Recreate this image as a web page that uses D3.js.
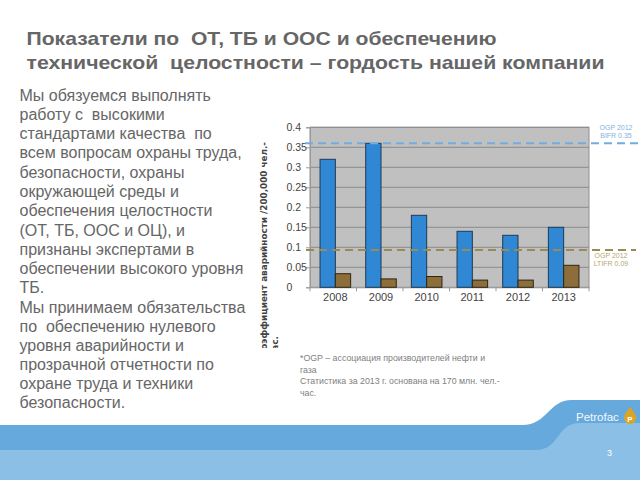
<!DOCTYPE html>
<html><head><meta charset="utf-8">
<script src="https://cdn.jsdelivr.net/npm/d3@7"></script>
<style>html,body{margin:0;padding:0;background:#fff;}svg{display:block;}svg text{white-space:pre;}</style>
</head><body>
<svg id="c" width="640" height="480" xml:space="preserve"></svg>
<script>
// ---- data ----
const years = ["2008", "2009", "2010", "2011", "2012", "2013"];
const bifr  = [0.32, 0.36, 0.18, 0.14, 0.13, 0.15];
const ltifr = [0.034, 0.021, 0.027, 0.018, 0.018, 0.055];
const yTicks = [0, 0.05, 0.1, 0.15, 0.2, 0.25, 0.3, 0.35, 0.4];
const yTickLabels = ["0", "0.05", "0.1", "0.15", "0.2", "0.25", "0.3", "0.35", "0.4"];
const benchValues = [0.36, 0.093];
const benchLabels = [["OGP 2012", "BIFR 0.35"], ["OGP 2012", "LTIFR 0.09"]];
const titleLines = ["Показатели по  ОТ, ТБ и ООС и обеспечению", "технической  целостности – гордость нашей компании"];
const para1 = ["Мы обязуемся выполнять", "работу с  высокими", "стандартами качества  по", "всем вопросам охраны труда,", "безопасности, охраны", "окружающей среды и", "обеспечения целостности", "(ОТ, ТБ, ООС и ОЦ), и", "признаны экспертами в", "обеспечении высокого уровня", "ТБ."];
const para2 = ["Мы принимаем обязательства", "по  обеспечению нулевого", "уровня аварийности и", "прозрачной отчетности по", "охране труда и техники", "безопасности."];
const footnote = ["*OGP – ассоциация производителей нефти и", "газа", "Статистика за 2013 г. основана на 170 млн. чел.-", "час."];
const yTitle = ["Коэффициент аварийности /200,000 чел.-", "час."];

const svg = d3.select("#c");
const defs = svg.append("defs");

// ---- footer bands ----
svg.append("path").attr("d", "M0,425 L522,425 C548,425 548,400 572,400 L640,400 L640,480 L0,480 Z").attr("fill", "#66a9dd");
svg.append("path").attr("d", "M0,450 L536,450 C560,450 556,423 580,423 L640,423 L640,480 L0,480 Z").attr("fill", "#8bbfe6");
svg.append("text").attr("x", 576).attr("y", 421).attr("font-family", "Liberation Sans, Arial").attr("font-size", 11.5).attr("fill", "#f4f8fc").text("Petrofac");
svg.append("path").attr("d", "M630,407 C626,412 624,415 624,418 A6,6 0 0 0 636,418 C636,415 634,412 630,407 Z").attr("fill", "#d9a624");
svg.append("text").attr("x", 630).attr("y", 421.5).attr("text-anchor", "middle").attr("font-family", "Liberation Sans, Arial").attr("font-weight", "bold").attr("font-size", 8).attr("fill", "#fff").text("P");
svg.append("text").attr("x", 607).attr("y", 456).attr("font-family", "Liberation Sans, Arial").attr("font-size", 9).attr("fill", "#fff").text("3");

// ---- title ----
defs.append("clipPath").attr("id", "titleClip").append("rect").attr("x", 0).attr("y", 0).attr("width", 640).attr("height", 78);
const tg = svg.append("g").attr("clip-path", "url(#titleClip)");
const titleW = [470, 578];
titleLines.forEach((t, i) => {
  tg.append("text").attr("x", 26.5).attr("y", 44.5 + i * 24)
    .attr("font-family", "Liberation Sans, Arial").attr("font-weight", "bold").attr("font-size", 18.5)
    .attr("fill", "#666").attr("textLength", titleW[i]).attr("lengthAdjust", "spacingAndGlyphs").text(t);
});

// ---- body text ----
const body = svg.append("g").attr("font-family", "Liberation Sans, Arial").attr("font-size", 16).attr("fill", "#666");
para1.forEach((t, i) => body.append("text").attr("x", 19.5).attr("y", 100.7 + i * 19.26).text(t));
para2.forEach((t, i) => body.append("text").attr("x", 19.5).attr("y", 313.3 + i * 19).text(t));

// ---- chart ----
const x0 = d3.scaleBand().domain(years).range([310, 589]).paddingInner(0.33).paddingOuter(0.22);
const x1 = d3.scaleBand().domain(["bifr", "ltifr"]).range([0, x0.bandwidth()]);
const y = d3.scaleLinear().domain([0, 0.4]).range([287.3, 127.3]);

const chart = svg.append("g");
chart.append("rect").attr("x", 310).attr("y", y(0.4)).attr("width", 279).attr("height", y(0) - y(0.4))
  .attr("fill", "#c0c0c0");
chart.append("g").selectAll("line").data(yTicks.slice(1)).join("line")
  .attr("x1", 310).attr("x2", 589).attr("y1", d => y(d)).attr("y2", d => y(d))
  .attr("stroke", "#8a8a8a").attr("stroke-width", 1);
chart.append("rect").attr("x", 310).attr("y", y(0.4)).attr("width", 279).attr("height", y(0) - y(0.4))
  .attr("fill", "none").attr("stroke", "#8f8f8f").attr("stroke-width", 1);

// y axis
const yAxis = d3.axisLeft(y).tickValues(yTicks).tickSize(4).tickFormat((d, i) => yTickLabels[i]);
const ya = chart.append("g").attr("transform", "translate(310,0)").call(yAxis);
ya.select(".domain").attr("stroke", "#999");
ya.selectAll(".tick line").attr("stroke", "#999");
ya.selectAll(".tick text").attr("x", -23.5).attr("text-anchor", "start")
  .attr("font-family", "Liberation Sans, Arial").attr("font-size", 10.5).attr("fill", "#444");

// x axis
const xAxis = d3.axisBottom(x0).tickSize(0).tickPadding(6);
const xa = chart.append("g").attr("transform", `translate(0,${y(0)})`).call(xAxis);
xa.select(".domain").attr("stroke", "#999");
xa.selectAll(".tick text").attr("font-family", "Liberation Sans, Arial").attr("font-size", 11).attr("fill", "#444");
const bounds = d3.range(years.length + 1).map(i => 310 + i * 279 / years.length);
chart.append("g").selectAll("line").data(bounds).join("line")
  .attr("x1", d => d).attr("x2", d => d).attr("y1", y(0)).attr("y2", y(0) + 4).attr("stroke", "#999");

// bars
const groups = chart.append("g").selectAll("g").data(years).join("g")
  .attr("transform", d => `translate(${x0(d)},0)`);
groups.append("rect").attr("x", x1("bifr")).attr("width", x1.bandwidth())
  .attr("y", (d, i) => y(bifr[i])).attr("height", (d, i) => y(0) - y(bifr[i]))
  .attr("fill", "#3087d3").attr("stroke", "#1e3a55").attr("stroke-width", 1);
groups.append("rect").attr("x", x1("ltifr")).attr("width", x1.bandwidth())
  .attr("y", (d, i) => y(ltifr[i])).attr("height", (d, i) => y(0) - y(ltifr[i]))
  .attr("fill", "#8d6e3b").attr("stroke", "#2e2613").attr("stroke-width", 1);

// benchmark lines
const benchColors = ["#72ade0", "#9a8a55"];
const benchLabelColors = ["#7fb2e2", "#b5a86e"];
const benchX = [[305, 640], [306, 636]];
const benchLabelX = [616, 611];
const benchLabelY = [[129.5, 138], [257.5, 266]];
benchValues.forEach((v, i) => {
  svg.append("line").attr("x1", benchX[i][0]).attr("x2", benchX[i][1]).attr("y1", y(v)).attr("y2", y(v))
    .attr("stroke", benchColors[i]).attr("stroke-width", 2).attr("stroke-dasharray", "8,5");
  benchLabels[i].forEach((t, j) => {
    svg.append("text").attr("x", benchLabelX[i]).attr("y", benchLabelY[i][j]).attr("text-anchor", "middle")
      .attr("font-family", "Liberation Sans, Arial").attr("font-size", 7).attr("fill", benchLabelColors[i]).text(t);
  });
});

// y axis title (clipped at bottom)
defs.append("clipPath").attr("id", "ytClip").append("rect").attr("x", 240).attr("y", 110).attr("width", 50).attr("height", 238);
const ytg = svg.append("g").attr("clip-path", "url(#ytClip)");
const ytLen = [215, null];
yTitle.forEach((t, i) => {
  const tx = ytg.append("text").attr("transform", `translate(${267 + i * 11},357) rotate(-90)`)
    .attr("font-family", "DejaVu Sans, Verdana").attr("font-weight", "bold").attr("font-size", 9)
    .attr("fill", "#444").text(t);
  if (ytLen[i]) tx.attr("textLength", ytLen[i]).attr("lengthAdjust", "spacingAndGlyphs");
});

// footnote
footnote.forEach((t, i) => {
  svg.append("text").attr("x", 300).attr("y", 361 + i * 11.5)
    .attr("font-family", "Liberation Sans, Arial").attr("font-size", 8.8).attr("fill", "#808080").text(t);
});
</script>
</body></html>
